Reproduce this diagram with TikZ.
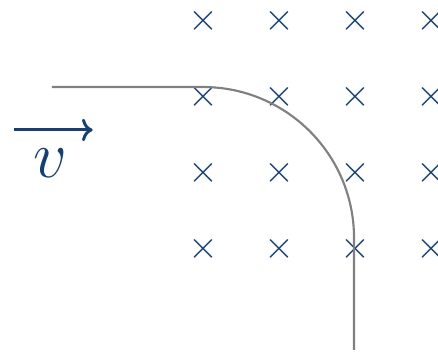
\documentclass[tikz,border=0pt]{standalone}
\usepackage{amsmath, amssymb}
\usepackage{xcolor}
\usepackage{tikz}
\usetikzlibrary{
arrows.meta,
positioning,
calc
}
\definecolor{fieldblue}{RGB}{22,64,112}
\definecolor{pathgray}{RGB}{128,128,128}

\begin{document}
\begin{tikzpicture}[
  >=To,
  cross/.style={font=\Large, fieldblue, inner sep=0pt},
  orbit/.style={pathgray, line width=0.8pt},
  velocity/.style={fieldblue, line width=1.1pt, ->},
  vlabel/.style={font=\Huge, fieldblue}
]
\useasboundingbox (0,0) rectangle (5.763,-4.632);

% Field into the page
\foreach \i in {0,...,3}
  \foreach \j in {0,...,3}
    \node[cross] (x\i\j) at (2.671+\i, -0.276-\j) {$\times$};

% Trajectory
\coordinate (start) at (0.684, -1.145);
\coordinate (bend) at (2.671, -1.145);
\coordinate (leave) at (4.658, -4.605);
\draw[orbit] (start) -- (bend) arc[start angle=90, end angle=0, radius=1.987] -- (leave);

% Velocity
\coordinate (vtail) at (0.18, -1.71);
\coordinate (vhead) at (1.22, -1.71);
\draw[velocity] (vtail) -- (vhead);
\node[vlabel] (v) at (0.66, -2.15) {$v$};

\end{tikzpicture}
\end{document}
